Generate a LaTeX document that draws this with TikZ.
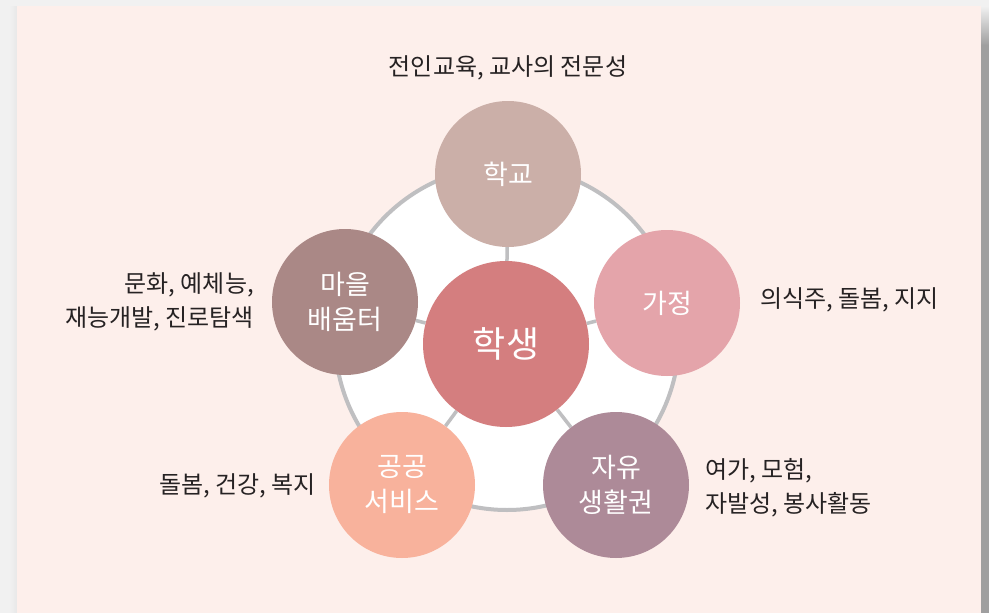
\documentclass[tikz,border=0pt]{standalone}
\usepackage{fontspec}
\setmainfont{Noto Sans CJK KR}
\usetikzlibrary{backgrounds}
\definecolor{outerbg}{HTML}{F1F1F1}
\definecolor{panel}{HTML}{FDEFEB}
\definecolor{ringgray}{HTML}{BFBFC1}
\definecolor{ink}{HTML}{262223}
\definecolor{hubc}{HTML}{D47E7F}
\definecolor{schoolc}{HTML}{CBAFA8}
\definecolor{homec}{HTML}{E4A4AA}
\definecolor{freec}{HTML}{AD8A98}
\definecolor{publicc}{HTML}{F8B29C}
\definecolor{villagec}{HTML}{AA8886}

\begin{document}
\begin{tikzpicture}[x=1pt, y=-1pt, sat/.style={circle, minimum size=146pt, inner sep=0pt, align=center, text=white, font=\fontsize{27}{35}\selectfont}, hub/.style={sat, minimum size=166pt, font=\fontsize{36}{40}\selectfont}, note/.style={inner sep=0pt, text=ink, font=\fontsize{24}{34}\selectfont}, spoke/.style={draw=ringgray, line width=3.5pt}]
  {
  \useasboundingbox (0,0) rectangle (989,613);
  \node[hub, fill=hubc] (student) at (506,344) {학생};
  \node[sat, fill=schoolc] (school) at (508,174) {학교};
  \node[sat, fill=homec] (home) at (667,303) {가정};
  \node[sat, fill=freec] (free) at (616,485) {자유\\생활권};
  \node[sat, fill=publicc] (public) at (402,485) {공공\\서비스};
  \node[sat, fill=villagec] (village) at (345,302) {마을\\배움터};

  \node[note] (schoolnote) at (508,68) {전인교육, 교사의 전문성};
  \node[note, anchor=west] (homenote) at (760,300) {의식주, 돌봄, 지지};
  \node[note, anchor=west, align=left] (freenote) at (705,488) {여가, 모험,\\자발성, 봉사활동};
  \node[note, anchor=east] (publicnote) at (316,486) {돌봄, 건강, 복지};
  \node[note, anchor=east, align=right] (villagenote) at (254,302) {문화, 예체능,\\재능개발, 진로탐색};

  \begin{pgfonlayer}{background}
    \fill[outerbg] (0,0) rectangle (989,613);
    \shade[left color=outerbg, right color=gray!18] (9,6) rectangle (17,613);
    \shade[top color=outerbg, bottom color=gray!75] (981,6) rectangle (989,45);
    \fill[gray!75] (981,45) rectangle (989,613);
    \fill[panel] (17,6) rectangle (981,613);
    \coordinate (ring) at (507,338);
    \draw[ringgray, fill=white, line width=4pt] (ring) circle (172);
    \foreach \s in {school,home,free,public,village}
      \draw[spoke] (student) -- (\s);
  \end{pgfonlayer}
  }
\end{tikzpicture}
\end{document}
